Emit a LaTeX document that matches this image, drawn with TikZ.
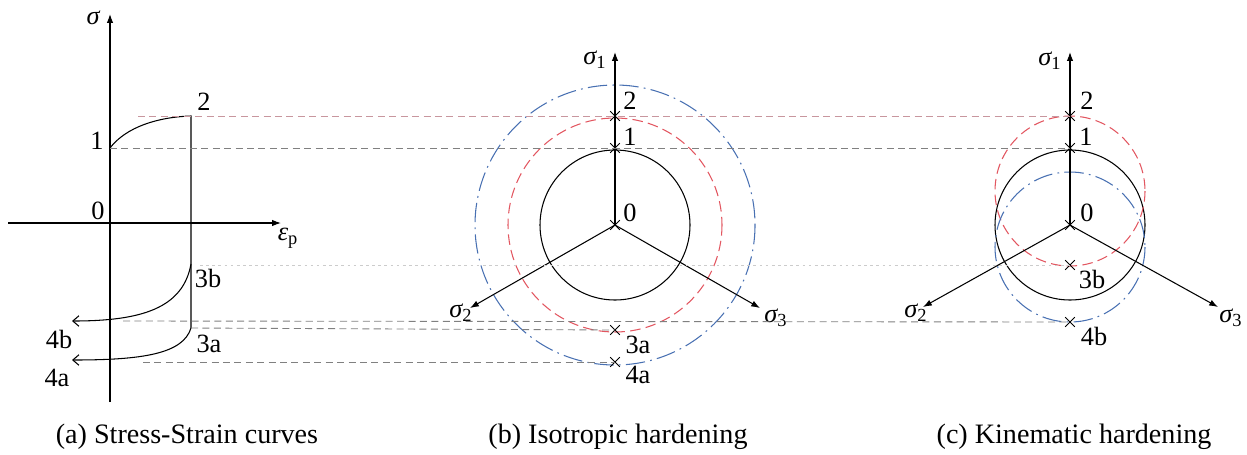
\documentclass[tikz,border=0pt]{standalone}
\usepackage{fontspec}
\setmainfont{Liberation Serif}
\usetikzlibrary{arrows.meta,shapes.misc,positioning}
\definecolor{isored}{RGB}{226,86,96}
\definecolor{isoblue}{RGB}{72,112,178}
\definecolor{pinkgray}{RGB}{200,150,158}

\begin{document}
\begin{tikzpicture}[x=0.02cm,y=-0.02cm]

\tikzset{axis/.style = {->,line width=0.6pt,> = {Latex[length=5pt,width=3.6pt]}}}
\tikzset{path1/.style = {->,line width=0.6pt,> = {Straight Barb[length=3.5pt,width=6pt]}}}
\tikzset{yield/.style = {line width=0.6pt}}
\tikzset{redsurf/.style = {isored,line width=0.6pt,dash pattern=on 6pt off 3pt}}
\tikzset{bluesurf/.style = {isoblue,line width=0.6pt,dash pattern=on 11pt off 3pt on 1pt off 3pt}}
\tikzset{guide/.style = {gray,line width=0.5pt,dash pattern=on 4pt off 2.5pt}}
\tikzset{lbl/.style = {inner sep=0pt,font=\fontsize{15}{17}\selectfont}}
\tikzset{caption/.style = {inner sep=0pt,font=\fontsize{16}{18}\selectfont}}
\tikzset{xpt/.style = {cross out,draw,line width=0.5pt,inner sep=0pt,minimum size=5pt}}

\useasboundingbox (0,0) rectangle (1247,454);

% (a) stress-strain
\coordinate (aYb) at (110,402);
\coordinate (aYt) at (110,14);
\coordinate (aXl) at (8,223);
\coordinate (aXr) at (281,223);
\coordinate (a1) at (110,148);
\coordinate (a2) at (191,116);
\coordinate (a3b) at (191,264);
\coordinate (a3a) at (191,328);
\coordinate (a4b) at (72,321);
\coordinate (a4a) at (72,360);

\draw[axis] (aYb) -- (aYt);
\draw[axis] (aXl) -- (aXr);
\draw[yield] (a1) .. controls (126,127) and (158,117) .. (a2) -- (a3a);
\draw[path1] (a3b) .. controls (183,308) and (142,321) .. (a4b);
\draw[path1] (a3a) .. controls (183,354) and (142,360) .. (a4a);

\node[lbl] (asig) at (93,18) {\itshape σ};
\node[lbl] (aeps) at (288,238) {\itshape ε\textsubscript{\upshape p}};
\node[lbl] (al0) at (98,211) {0};
\node[lbl] (al1) at (97,141) {1};
\node[lbl] (al2) at (204,102) {2};
\node[lbl] (al3b) at (208,278) {3b};
\node[lbl] (al3a) at (209,344) {3a};
\node[lbl] (al4b) at (59,339) {4b};
\node[lbl] (al4a) at (57,378) {4a};

% (b) isotropic
\coordinate (bO) at (615,225);
\coordinate (bT) at (615,52);
\coordinate (bL) at (470,308);
\coordinate (bR) at (760,308);
\draw[yield] (bO) circle (75);
\draw[redsurf] (bO) circle (107);
\draw[bluesurf] (bO) circle (140);
\draw[axis] (bO) -- (bT);
\draw[axis] (bO) -- (bL);
\draw[axis] (bO) -- (bR);
\node[xpt] (b0) at (615,225) {};
\node[xpt] (b1) at (615,148) {};
\node[xpt] (b2) at (615,116) {};
\node[xpt] (b3a) at (615,330) {};
\node[xpt] (b4a) at (615,362) {};

\node[lbl] (bs1) at (595,60) {\itshape σ\textsubscript{\upshape 1}};
\node[lbl] (bs2) at (461,313) {\itshape σ\textsubscript{\upshape 2}};
\node[lbl] (bs3) at (776,318) {\itshape σ\textsubscript{\upshape 3}};
\node[lbl] (bl0) at (630,213) {0};
\node[lbl] (bl1) at (630,137) {1};
\node[lbl] (bl2) at (630,101) {2};
\node[lbl] (bl3a) at (638,345) {3a};
\node[lbl] (bl4a) at (638,375) {4a};

% (c) kinematic
\coordinate (cO) at (1070,225);
\coordinate (cT) at (1070,52);
\coordinate (cL) at (923,307);
\coordinate (cR) at (1218,307);
\draw[yield] (cO) circle (75);
\draw[redsurf] (1070,191) circle (75);
\draw[bluesurf] (1070,247) circle (75);
\draw[axis] (cO) -- (cT);
\draw[axis] (cO) -- (cL);
\draw[axis] (cO) -- (cR);
\node[xpt] (c0) at (1070,225) {};
\node[xpt] (c1) at (1070,148) {};
\node[xpt] (c2) at (1070,116) {};
\node[xpt] (c3b) at (1070,265) {};
\node[xpt] (c4b) at (1070,322) {};

\node[lbl] (cs1) at (1050,61) {\itshape σ\textsubscript{\upshape 1}};
\node[lbl] (cs2) at (916,313) {\itshape σ\textsubscript{\upshape 2}};
\node[lbl] (cs3) at (1231,318) {\itshape σ\textsubscript{\upshape 3}};
\node[lbl] (cl0) at (1087,213) {0};
\node[lbl] (cl1) at (1086,137) {1};
\node[lbl] (cl2) at (1087,101) {2};
\node[lbl] (cl3b) at (1092,279) {3b};
\node[lbl] (cl4b) at (1094,336) {4b};

% guide lines
\coordinate (g2) at (138,116);
\coordinate (g3b) at (200,265);
\coordinate (g4b) at (123,321);
\coordinate (g4a) at (143,362);
\draw[guide,pinkgray] (g2) -- (c2.center);
\draw[guide] (a1) -- (c1.center);
\draw[gray!40,line width=0.5pt,dash pattern=on 1.5pt off 2pt] (g3b) -- (c3b.center);
\draw[guide] (g4b) -- (c4b.center);
\draw[guide] (a3a) -- (b3a.center);
\draw[guide] (g4a) -- (b4a.center);

% captions
\node[caption] (capa) at (187,437) {(a) Stress-Strain curves};
\node[caption] (capb) at (618,437) {(b) Isotropic hardening};
\node[caption] (capc) at (1074,437) {(c) Kinematic hardening};

\end{tikzpicture}
\end{document}
